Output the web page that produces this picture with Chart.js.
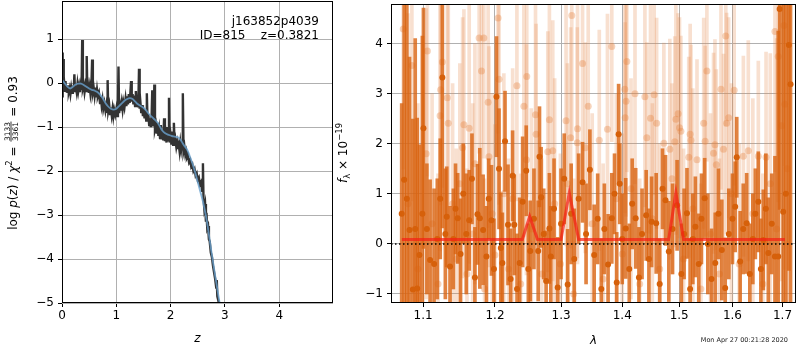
<!DOCTYPE html>
<html>
<head>
<meta charset="utf-8">
<script src="https://cdn.jsdelivr.net/npm/chart.js@4.4.1/dist/chart.umd.min.js"></script>
<style>
  body { margin: 0; background: #fff; }
  #wrap { position: relative; width: 800px; height: 350px; }
  canvas { position: absolute; left: 0; top: 0; }
</style>
</head>
<body>
<div id="wrap">
  <canvas id="pz" width="800" height="350"></canvas>
  <canvas id="spec" width="800" height="350"></canvas>
</div>
<script>
// ---- left panel: log p(z) ----
var zTicks = [0, 1, 2, 3, 4];
var lnpTicks = [-5, -4, -3, -2, -1, 0, 1];
// [z, log p] of the full-resolution curve
var lnpRaw = [
  [0.000,-0.30],[0.008,0.70],[0.016,-0.10],[0.024,0.55],[0.032,-0.15],[0.045,-0.05],[0.055,-0.20],[0.065,0.05],
  [0.075,-0.18],[0.090,-0.08],[0.100,-0.22],[0.115,-0.05],[0.125,-0.20],[0.140,-0.12],[0.155,-0.25],[0.170,-0.10],
  [0.185,-0.22],[0.200,-0.05],[0.215,-0.20],[0.228,0.20],[0.240,-0.18],[0.255,-0.08],[0.270,-0.20],[0.285,-0.02],
  [0.300,-0.18],[0.315,-0.06],[0.330,-0.20],[0.345,-0.04],[0.360,-0.15],[0.372,0.98],[0.384,-0.12],[0.400,-0.04],
  [0.415,-0.20],[0.430,-0.06],[0.445,-0.18],[0.455,0.62],[0.466,-0.15],[0.480,-0.05],[0.495,-0.22],[0.510,-0.08],
  [0.525,-0.25],[0.540,-0.12],[0.555,0.54],[0.568,-0.22],[0.585,-0.12],[0.600,-0.28],[0.615,-0.10],[0.630,-0.32],
  [0.645,-0.15],[0.660,-0.30],[0.680,-0.22],[0.700,-0.45],[0.715,-0.30],[0.730,-0.50],[0.745,-0.38],[0.760,-0.58],
  [0.780,-0.45],[0.800,-0.62],[0.815,-0.50],[0.830,-0.65],[0.840,0.07],[0.852,-0.62],[0.870,-0.50],[0.885,-0.70],
  [0.900,-0.55],[0.915,-0.72],[0.930,-0.58],[0.945,-0.75],[0.960,-0.60],[0.980,-0.72],[1.000,-0.58],[1.015,-0.75],
  [1.030,-0.55],[1.040,0.38],[1.052,-0.68],[1.070,-0.50],[1.085,-0.62],[1.100,-0.45],[1.115,-0.60],[1.130,-0.42],
  [1.150,-0.55],[1.170,-0.35],[1.185,-0.52],[1.200,-0.30],[1.215,-0.48],[1.230,-0.25],[1.245,-0.45],[1.260,-0.20],
  [1.272,0.05],[1.284,-0.42],[1.300,-0.25],[1.315,-0.48],[1.330,-0.28],[1.345,-0.52],[1.360,-0.18],[1.375,-0.50],
  [1.390,-0.30],[1.405,-0.55],[1.418,0.33],[1.430,-0.58],[1.445,-0.45],[1.460,-0.68],[1.475,-0.50],[1.490,-0.75],
  [1.505,-0.58],[1.520,-0.80],[1.535,-0.62],[1.550,-0.85],[1.562,-0.23],[1.575,-0.85],[1.590,-0.70],[1.605,-0.95],
  [1.620,-0.80],[1.635,-1.00],[1.650,-0.75],[1.662,-0.16],[1.675,-0.98],[1.690,-0.85],[1.700,-0.03],[1.712,-1.05],
  [1.730,-0.95],[1.745,-1.15],[1.760,-0.90],[1.775,-1.20],[1.790,-1.05],[1.805,-1.25],[1.820,-0.95],[1.835,-1.28],
  [1.850,-1.10],[1.865,-1.30],[1.880,-0.80],[1.895,-1.32],[1.910,-1.15],[1.925,-1.35],[1.940,-1.00],[1.955,-1.30],
  [1.970,-0.33],[1.982,-1.35],[2.000,-1.20],[2.015,-1.40],[2.030,-1.10],[2.045,-1.40],[2.060,-0.90],[2.075,-1.42],
  [2.090,-1.30],[2.105,-1.45],[2.120,-1.35],[2.135,-1.50],[2.150,-1.40],[2.165,-1.55],[2.180,-1.35],[2.195,-1.50],
  [2.210,-1.35],[2.225,-0.23],[2.238,-1.55],[2.255,-1.45],[2.270,-1.62],[2.285,-1.55],[2.300,-1.70],[2.320,-1.65],
  [2.340,-1.80],[2.360,-1.75],[2.380,-1.90],[2.400,-1.85],[2.420,-2.00],[2.440,-1.95],[2.460,-2.10],[2.480,-2.05],
  [2.500,-2.20],[2.520,-2.15],[2.540,-2.30],[2.560,-2.25],[2.580,-2.45],[2.595,-1.82],[2.605,-2.60],[2.620,-2.85],
  [2.635,-2.75],[2.650,-3.15],[2.660,-2.95],[2.675,-3.30],[2.690,-3.25],[2.705,-3.55],[2.720,-3.60],[2.740,-3.85],
  [2.760,-3.95],[2.780,-4.15],[2.800,-4.30],[2.820,-4.45],[2.840,-4.65],[2.850,-4.48],[2.860,-4.85],[2.880,-4.95],
  [2.900,-5.10]
];
// [z, log p] of the smooth template-fit curve
var lnpFit = [
  [0.00,0.08],[0.05,0.00],[0.10,-0.08],[0.15,-0.12],[0.20,-0.08],[0.25,-0.03],[0.30,-0.01],[0.35,-0.01],
  [0.40,-0.04],[0.45,-0.08],[0.50,-0.12],[0.55,-0.15],[0.60,-0.17],[0.65,-0.20],[0.70,-0.26],[0.75,-0.34],
  [0.80,-0.45],[0.85,-0.53],[0.90,-0.58],[0.95,-0.60],[1.00,-0.58],[1.05,-0.52],[1.10,-0.46],[1.15,-0.40],
  [1.20,-0.36],[1.25,-0.34],[1.30,-0.36],[1.35,-0.42],[1.40,-0.48],[1.45,-0.52],[1.50,-0.56],[1.55,-0.62],
  [1.60,-0.70],[1.65,-0.76],[1.70,-0.82],[1.75,-0.88],[1.80,-0.98],[1.85,-1.08],[1.90,-1.14],[1.95,-1.17],
  [2.00,-1.19],[2.05,-1.21],[2.10,-1.22],[2.15,-1.24],[2.20,-1.32],[2.25,-1.42],[2.30,-1.50],[2.35,-1.65],
  [2.40,-1.82],[2.45,-2.02],[2.50,-2.25],[2.55,-2.48],[2.60,-2.72],[2.65,-3.02],[2.70,-3.40],[2.75,-3.82],
  [2.80,-4.22],[2.85,-4.60],[2.90,-4.98],[2.93,-5.20]
];

// ---- right panel: spectrum ----
var lamTicks = [1.1, 1.2, 1.3, 1.4, 1.5, 1.6, 1.7];
var fluxTicks = [-1, 0, 1, 2, 3, 4];
// [lambda, flux, err] binned spectrum
var darkPts = [
  [1.0718,0.60,2.20],[1.0750,1.28,4.50],[1.0785,0.90,4.20],[1.0820,0.28,3.45],[1.0864,-0.91,3.40],[1.0895,0.30,3.80],
  [1.0921,-0.89,3.40],[1.0951,-0.22,2.20],[1.0990,0.60,3.55],[1.1004,2.31,2.40],[1.1050,0.30,1.30],[1.1093,-0.32,1.60],
  [1.1147,-0.40,1.50],[1.1190,0.10,1.20],[1.1230,0.90,1.20],[1.1259,3.32,3.00],[1.1300,0.20,1.30],[1.1319,0.54,1.00],
  [1.1364,-0.45,1.20],[1.1410,0.10,1.00],[1.1440,0.70,0.90],[1.1470,0.51,0.90],[1.1510,-0.20,1.10],[1.1548,1.00,1.00],
  [1.1590,0.20,1.20],[1.1631,0.47,1.00],[1.1670,1.30,0.90],[1.1712,-0.67,1.00],[1.1749,0.59,1.00],[1.1782,0.51,1.40],
  [1.1829,0.28,1.10],[1.1877,-0.25,1.00],[1.1910,0.90,0.80],[1.1949,0.47,1.10],[1.1985,-0.50,1.00],[1.2022,2.94,1.20],
  [1.2059,1.50,1.20],[1.2085,-0.08,1.10],[1.2108,-0.38,1.00],[1.2147,2.05,1.00],[1.2191,0.38,1.20],[1.2230,-0.70,1.00],
  [1.2259,1.36,0.90],[1.2284,0.38,1.00],[1.2325,-0.90,1.10],[1.2364,-0.38,1.30],[1.2409,0.84,1.30],[1.2463,1.46,0.90],
  [1.2495,-0.50,0.90],[1.2524,-0.14,1.00],[1.2580,0.50,1.00],[1.2645,-0.14,1.00],[1.2665,1.74,1.00],[1.2690,0.93,1.00],
  [1.2730,0.20,0.90],[1.2767,-0.74,1.00],[1.2818,0.31,1.10],[1.2840,-0.25,1.00],[1.2890,0.70,1.00],[1.2947,-0.87,1.00],
  [1.3000,0.40,1.10],[1.3050,1.30,0.90],[1.3105,-0.81,1.10],[1.3160,0.60,1.00],[1.3210,-0.30,1.00],[1.3280,0.90,0.90],
  [1.3343,1.23,0.80],[1.3400,0.20,1.00],[1.3462,1.48,0.80],[1.3532,-0.22,1.00],[1.3590,0.50,0.90],[1.3650,-0.90,1.00],
  [1.3700,0.30,0.90],[1.3762,-0.41,1.00],[1.3824,0.51,0.90],[1.3870,1.00,0.80],[1.3907,-0.77,1.00],[1.3939,2.19,1.00],
  [1.3958,1.20,0.80],[1.4000,0.10,0.90],[1.4059,0.31,1.00],[1.4120,-0.50,0.90],[1.4170,0.80,0.90],[1.4230,0.51,1.00],
  [1.4286,-0.67,1.00],[1.4340,0.20,0.90],[1.4412,0.57,0.90],[1.4460,-0.30,1.00],[1.4507,0.44,0.90],[1.4588,0.41,1.00],
  [1.4650,-0.80,0.90],[1.4700,1.10,0.80],[1.4754,0.87,0.90],[1.4813,-0.15,1.00],[1.4880,0.30,0.90],[1.4962,0.77,0.90],
  [1.5040,-0.60,1.00],[1.5090,0.20,0.90],[1.5142,0.61,0.90],[1.5200,-0.90,1.00],[1.5250,0.10,0.90],[1.5297,0.34,1.00],
  [1.5360,-0.40,1.00],[1.5410,0.50,0.90],[1.5470,0.91,0.80],[1.5530,0.00,1.00],[1.5600,-0.70,1.00],[1.5670,-0.38,1.00],
  [1.5730,0.60,0.90],[1.5795,-0.12,1.00],[1.5860,-0.88,1.00],[1.5930,0.20,0.90],[1.6000,0.50,0.90],[1.6053,0.74,0.90],
  [1.6083,1.73,0.80],[1.6150,-0.35,1.00],[1.6210,0.30,0.90],[1.6278,0.41,1.00],[1.6340,-0.60,1.00],[1.6400,0.10,0.90],
  [1.6450,0.60,0.90],[1.6509,0.84,1.00],[1.6560,-0.50,1.00],[1.6609,0.08,1.00],[1.6660,0.70,1.10],[1.6710,-0.18,1.10],
  [1.6780,0.40,1.00],[1.6845,-0.25,2.00],[1.6912,-0.25,4.50],[1.6941,4.69,4.00],[1.7013,0.64,4.50],[1.7070,1.00,4.20],
  [1.7131,3.97,4.50],[1.7166,3.19,4.50]
];
// [lambda, flux, err] individual exposures
var lightPts = [
  [1.0738,4.29,2.8],[1.0800,0.80,3.8],[1.0851,3.56,2.7],[1.0930,-0.50,3.3],[1.1040,1.80,2.9],[1.1057,3.85,2.5],
  [1.1120,0.40,2.6],[1.1200,-0.80,2.2],[1.1228,2.56,2.7],[1.1236,3.08,2.3],[1.1259,3.63,2.5],[1.1327,2.92,2.4],
  [1.1340,2.41,2.8],[1.1400,0.80,2.4],[1.1450,-0.30,2.2],[1.1500,1.20,2.4],[1.1539,1.92,2.6],[1.1557,2.38,2.3],
  [1.1600,-0.60,2.1],[1.1631,2.31,2.7],[1.1680,0.20,2.6],[1.1712,1.60,2.4],[1.1772,4.11,2.3],[1.1806,3.45,2.1],
  [1.1839,4.11,2.4],[1.1850,-0.90,2.2],[1.1901,2.83,2.5],[1.1913,1.74,2.2],[1.1960,0.60,2.4],[1.2000,-0.22,2.6],
  [1.2045,4.51,2.3],[1.2059,3.29,2.5],[1.2130,1.00,2.4],[1.2200,-0.50,2.2],[1.2260,0.90,2.6],[1.2323,3.16,2.3],
  [1.2380,-0.80,2.2],[1.2428,2.75,2.6],[1.2466,1.68,2.3],[1.2471,3.34,2.4],[1.2540,0.30,2.4],[1.2604,2.58,2.5],
  [1.2613,2.19,2.2],[1.2700,-0.60,2.3],[1.2793,1.84,2.4],[1.2818,2.48,2.3],[1.2870,1.86,2.6],[1.2900,0.80,2.5],
  [1.2990,-0.40,2.2],[1.3079,2.46,2.5],[1.3100,1.20,2.4],[1.3152,2.12,2.2],[1.3170,4.56,2.5],[1.3200,-1.00,2.3],
  [1.3258,2.02,2.3],[1.3262,2.30,2.7],[1.3343,3.60,2.3],[1.3387,1.92,2.1],[1.3435,2.75,2.4],[1.3500,0.40,2.2],
  [1.3616,2.07,2.2],[1.3680,-0.70,2.3],[1.3752,2.29,2.3],[1.3824,3.94,1.9],[1.3900,0.90,2.1],[1.4000,-0.20,2.4],
  [1.4043,3.09,2.1],[1.4050,2.52,1.9],[1.4065,2.85,2.3],[1.4079,3.64,2.2],[1.4150,1.10,2.2],[1.4218,3.00,1.8],
  [1.4300,-0.80,2.1],[1.4390,2.94,2.2],[1.4423,2.12,1.9],[1.4488,2.51,2.3],[1.4520,0.50,2.3],[1.4552,2.98,2.0],
  [1.4596,2.41,2.1],[1.4650,-0.50,2.5],[1.4724,2.01,2.0],[1.4831,1.89,2.2],[1.4870,1.30,1.9],[1.4920,2.04,2.1],
  [1.4940,2.49,2.3],[1.4981,2.60,2.0],[1.5006,2.32,2.2],[1.5031,2.25,1.9],[1.5080,-0.30,2.2],[1.5175,1.73,2.0],
  [1.5201,2.19,2.2],[1.5216,2.07,1.9],[1.5250,0.70,2.4],[1.5327,1.68,2.0],[1.5400,-0.90,2.1],[1.5452,2.41,2.1],
  [1.5479,2.05,1.9],[1.5512,3.45,1.8],[1.5580,0.20,2.4],[1.5637,1.81,2.0],[1.5664,1.98,2.1],[1.5690,1.58,1.9],
  [1.5750,-0.60,2.3],[1.5779,3.09,2.0],[1.5827,1.89,1.9],[1.5871,4.15,1.8],[1.5887,2.41,2.2],[1.5926,2.52,2.0],
  [1.5980,1.00,2.2],[1.6033,3.07,1.9],[1.6130,-0.40,2.4],[1.6213,1.75,2.0],[1.6310,1.86,2.2],[1.6400,0.60,2.3],
  [1.6509,1.75,1.9],[1.6600,-0.80,2.2],[1.6664,1.73,2.1],[1.6750,1.20,2.6],[1.6845,4.24,2.8],[1.6880,0.30,3.8],
  [1.6912,3.74,2.9],[1.6979,2.36,3.1],[1.7028,4.36,2.8],[1.7048,2.79,3.3],[1.7100,1.50,4.3]
];
// [lambda, flux] line model
var modelLam  = [1.072, 1.2405, 1.2515, 1.2635, 1.300, 1.3130, 1.3280, 1.481, 1.4940, 1.508, 1.705];
var modelFlux = [0.09,  0.09,   0.55,   0.09,   0.09,  1.02,   0.09,   0.09,  1.02,   0.09,  0.09];
var zeroLam = [1.058, 1.728];
var zeroFlux = [0, 0];

Chart.defaults.font.family = '"DejaVu Sans"';
Chart.defaults.font.size = 12;
Chart.defaults.color = '#000';

var F = '12px "DejaVu Sans"', I = 'italic 12px "DejaVu Sans"', S = '8.5px "DejaVu Sans"', FR = '7.5px "DejaVu Sans"';

function mathText(ctx, cx, cy, parts, rotate) {
  ctx.save();
  ctx.translate(cx, cy);
  if (rotate) ctx.rotate(-Math.PI / 2);
  ctx.textBaseline = 'alphabetic';
  ctx.fillStyle = '#000';
  var w = 0;
  parts.forEach(function (p) {
    ctx.font = p.font;
    p.w = p.frac ? Math.max(ctx.measureText(p.frac[0]).width, ctx.measureText(p.frac[1]).width) + 3 : ctx.measureText(p.t).width;
    w += p.w;
  });
  var x = -w / 2;
  parts.forEach(function (p) {
    ctx.font = p.font;
    if (p.frac) {
      ctx.textAlign = 'center';
      ctx.fillText(p.frac[0], x + p.w / 2, -7.5);
      ctx.fillText(p.frac[1], x + p.w / 2, 0.5);
      ctx.fillRect(x + 1, -6.4, p.w - 2, 0.8);
      ctx.textAlign = 'left';
    } else {
      ctx.fillText(p.t, x, p.dy || 0);
    }
    x += p.w;
  });
  ctx.restore();
}

function frame(chart) {
  var a = chart.chartArea, ctx = chart.ctx;
  ctx.save();
  ctx.strokeStyle = '#000';
  ctx.lineWidth = 1;
  ctx.strokeRect(Math.round(a.left) + 0.5, Math.round(a.top) + 0.5, Math.round(a.right - a.left) - 1, Math.round(a.bottom - a.top) - 1);
  ctx.restore();
}

function axisOpts(min, max, ticks, fit) {
  return {
    type: 'linear', min: min, max: max, offset: false,
    grid: { color: '#b0b0b0', lineWidth: 1, tickColor: '#000', tickLength: 4, offset: false },
    border: { display: false },
    ticks: { padding: 2, callback: function (v) { return String(v).replace('-', '\u2212'); } },
    afterBuildTicks: function (s) { s.ticks = ticks.map(function (v) { return { value: v }; }); },
    afterFit: function (s) {
      fit(s);
      s.paddingTop = 0; s.paddingBottom = 0; s.paddingLeft = 0; s.paddingRight = 0;
    }
  };
}

// left chart
var leftX = axisOpts(0, 4.99, zTicks, function (s) { s.height = 47; });
var leftY = axisOpts(-5, 1.87, lnpTicks, function (s) { s.width = 62; });
leftY.ticks.padding = 4;

new Chart(document.getElementById('pz'), {
  type: 'scatter',
  data: {
    datasets: [
      { data: lnpFit.map(function (p) { return { x: p[0], y: p[1] }; }), showLine: true, pointRadius: 0,
        borderColor: 'rgba(105,160,205,0.8)', borderWidth: 1.8, tension: 0.3 },
      { data: lnpRaw.map(function (p) { return { x: p[0], y: p[1] }; }), showLine: true, pointRadius: 0,
        borderColor: '#333', borderWidth: 2.4 }
    ]
  },
  options: {
    responsive: false, animation: false,
    layout: { padding: { left: 0, right: 467, top: 1, bottom: 0 } },
    plugins: { legend: { display: false }, tooltip: { enabled: false } },
    scales: { x: leftX, y: leftY }
  },
  plugins: [{
    id: 'deco',
    afterDraw: function (chart) {
      frame(chart);
      var ctx = chart.ctx;
      ctx.save();
      ctx.fillStyle = '#000';
      ctx.font = F;
      ctx.textAlign = 'right';
      ctx.textBaseline = 'alphabetic';
      ctx.fillText('j163852p4039', 319, 25);
      ctx.fillText('ID=815    z=0.3821', 319, 39);
      ctx.textAlign = 'center';
      ctx.font = I;
      ctx.fillText('z', (chart.chartArea.left + chart.chartArea.right) / 2, 342);
      ctx.restore();
      mathText(ctx, 17, 153, [
        { t: 'log ', font: F }, { t: 'p', font: I }, { t: '(', font: F }, { t: 'z', font: I }, { t: ') / ', font: F },
        { t: '\u03c7', font: I }, { t: '2', font: S, dy: -5 }, { t: ' = ', font: F },
        { frac: ['3133', '3361'], font: FR }, { t: ' = 0.93', font: F }
      ], true);
    }
  }]
});

// right chart
var rightX = axisOpts(1.058, 1.728, lamTicks, function (s) { s.height = 47; });
rightX.type = 'logarithmic';
rightX.bounds = 'data';
rightX.ticks.callback = function (v) { return v.toFixed(1); };
var rightY = axisOpts(-1.18, 4.79, fluxTicks, function (s) { s.width = 40; });
rightY.ticks.padding = 4;

function bars(pts) { return pts.map(function (p) { return { x: p[0], y: [p[1] - p[2], p[1] + p[2]] }; }); }
function dots(pts) { return pts.map(function (p) { return { x: p[0], y: p[1] }; }); }
function pairs(xs, ys) { return xs.map(function (x, i) { return { x: x, y: ys[i] }; }); }

new Chart(document.getElementById('spec'), {
  type: 'scatter',
  data: {
    datasets: [
      { type: 'line', data: pairs(zeroLam, zeroFlux), borderColor: '#000', borderWidth: 1.5, borderDash: [1.5, 2.5], pointRadius: 0 },
      { type: 'line', data: pairs(modelLam, modelFlux), borderColor: 'rgba(245,30,20,0.7)', borderWidth: 3, pointRadius: 0 },
      { type: 'scatter', data: dots(darkPts), pointRadius: 3, backgroundColor: 'rgb(214,96,10)', borderWidth: 0 },
      { type: 'bar', data: bars(darkPts), backgroundColor: 'rgba(218,100,18,0.8)', barThickness: 3, grouped: false, borderWidth: 0 },
      { type: 'scatter', data: dots(lightPts), pointRadius: 3.5, backgroundColor: 'rgba(228,130,60,0.35)', borderWidth: 0 },
      { type: 'bar', data: bars(lightPts), backgroundColor: 'rgba(230,140,80,0.27)', barThickness: 3, grouped: false, borderWidth: 0 }
    ]
  },
  options: {
    responsive: false, animation: false,
    layout: { padding: { left: 351, right: 2, top: 1, bottom: 0 } },
    plugins: { legend: { display: false }, tooltip: { enabled: false } },
    scales: { x: rightX, y: rightY }
  },
  plugins: [{
    id: 'deco2',
    afterDraw: function (chart) {
      frame(chart);
      var ctx = chart.ctx;
      ctx.save();
      ctx.fillStyle = '#000';
      ctx.textAlign = 'center';
      ctx.font = I;
      ctx.fillText('\u03bb', (chart.chartArea.left + chart.chartArea.right) / 2, 344);
      ctx.font = '6.5px "DejaVu Sans"';
      ctx.fillStyle = '#222';
      ctx.textAlign = 'right';
      ctx.fillText('Mon Apr 27 00:21:28 2020', 788, 342);
      ctx.restore();
      mathText(ctx, 347, 153, [
        { t: 'f', font: I }, { t: '\u03bb', font: S, dy: 3 }, { t: ' \u00d7 10', font: F }, { t: '\u221219', font: S, dy: -5 }
      ], true);
    }
  }]
});
</script>
</body>
</html>
